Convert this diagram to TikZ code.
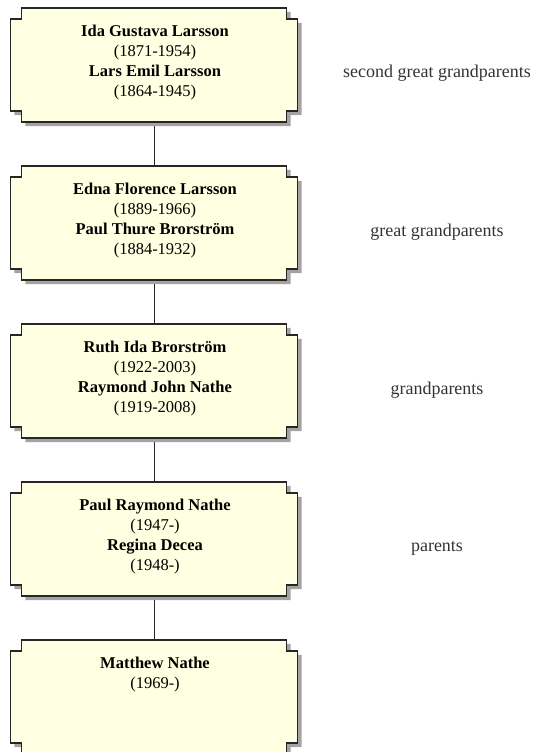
\documentclass[tikz,border=0pt]{standalone}
\usepackage{fontspec}
\setmainfont{Liberation Serif}
\usetikzlibrary{calc}
\definecolor{cardfill}{HTML}{FFFFE1}
\definecolor{cardedge}{HTML}{262626}
\definecolor{cardshade}{HTML}{A3A3A3}
\definecolor{gentext}{HTML}{333333}
\tikzset{
  famcard/.style={draw=none,inner sep=0pt,minimum width=287pt,minimum height=114pt},
  cardtext/.style={anchor=north,align=center,inner sep=0pt,font=\fontsize{16.5}{20}\selectfont},
  genlabel/.style={text=gentext,inner sep=0pt,font=\fontsize{18}{20}\selectfont},
  link/.style={line width=1pt,cardedge}
}
\newcommand{\drawcard}[1]{
\filldraw[fill=cardfill,draw=cardedge,line width=1.5pt,
  preaction={fill=cardshade,draw=none,transform canvas={shift={(4pt,-4pt)}}}]
  ($(#1.north west)+(11,0)$) -- ($(#1.north east)+(-11,0)$) -- ++(0,11) -- ++(11,0)
  -- ($(#1.south east)+(0,-11)$) -- ++(-11,0) -- ++(0,11)
  -- ($(#1.south west)+(11,0)$) -- ++(0,-11) -- ++(-11,0)
  -- ($(#1.north west)+(0,11)$) -- ++(11,0) -- cycle;
}
\begin{document}
\begin{tikzpicture}[x=1pt,y=-1pt]
\useasboundingbox (0,0) rectangle (533,752);

\node[famcard] (p1) at (154,65) {};
\node[famcard] (p2) at (154,223) {};
\node[famcard] (p3) at (154,381) {};
\node[famcard] (p4) at (154,539) {};
\node[famcard] (p5) at (154,697) {};

\draw[link] (p1.south) -- (p2.north);
\draw[link] (p2.south) -- (p3.north);
\draw[link] (p3.south) -- (p4.north);
\draw[link] (p4.south) -- (p5.north);

\drawcard{p1}
\drawcard{p2}
\drawcard{p3}
\drawcard{p4}
\drawcard{p5}

\node[cardtext] (t1) at ($(p1.north)+(1,17)$) {\textbf{Ida Gustava Larsson}\\(1871-1954)\\\textbf{Lars Emil Larsson}\\(1864-1945)};
\node[cardtext] (t2) at ($(p2.north)+(1,17)$) {\textbf{Edna Florence Larsson}\\(1889-1966)\\\textbf{Paul Thure Brorström}\\(1884-1932)};
\node[cardtext] (t3) at ($(p3.north)+(1,17)$) {\textbf{Ruth Ida Brorström}\\(1922-2003)\\\textbf{Raymond John Nathe}\\(1919-2008)};
\node[cardtext] (t4) at ($(p4.north)+(1,17)$) {\textbf{Paul Raymond Nathe}\\(1947-)\\\textbf{Regina Decea}\\(1948-)};
\node[cardtext] (t5) at ($(p5.north)+(1,17)$) {\textbf{Matthew Nathe}\\(1969-)};

\node[genlabel] (g1) at (437,73) {second great grandparents};
\node[genlabel] (g2) at (437,232) {great grandparents};
\node[genlabel] (g3) at (437,390) {grandparents};
\node[genlabel] (g4) at (437,548) {parents};
\end{tikzpicture}
\end{document}
